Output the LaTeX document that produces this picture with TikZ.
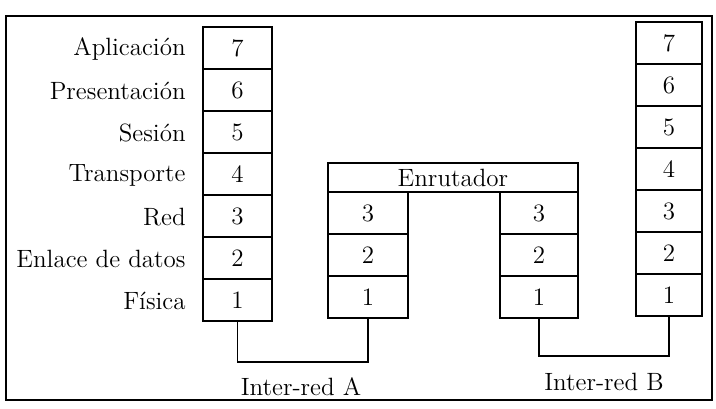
\documentclass[tikz,border=0pt]{standalone}
\usepackage{tikz}
\usetikzlibrary{positioning, calc}
\tikzset{
    % Layer cells of the stacks
    layerbox/.style={
        rectangle,
        draw=black,
        line width=0.9pt,
        inner sep=0pt,
        minimum height=21pt,
        text centered,
        font=\fontsize{12.5}{15}\selectfont
    },
    routerbox/.style={
        layerbox,
        minimum width=125pt,
        minimum height=14.5pt
    },
    % Labels
    layername/.style={
        anchor=east,
        inner sep=0pt,
        font=\fontsize{12.5}{15}\selectfont
    },
    netlabel/.style={
        inner sep=0pt,
        font=\fontsize{12.5}{15}\selectfont
    },
    % Links between physical layers
    netlink/.style={
        draw=black,
        line width=0.9pt
    }
}
\begin{document}
\begin{tikzpicture}[x=0.5pt, y=-0.5pt]
    \useasboundingbox (0,0) rectangle (716,408);
    % Frame
    \draw[line width=0.9pt] (6,16) rectangle (712,400);

    % Host A - seven layers with names
    \foreach \n/\l in {7/Aplicación,6/Presentación,5/Sesión,4/Transporte,3/Red,2/Enlace de datos,1/Física} {
        \node[layerbox, minimum width=34.5pt] (a\n) at (237.5,{27+42*(7-\n)+21}) {\n};
        \node[layername] (la\n) at (186,{27+42*(7-\n)+22}) {\l};
    }

    % Router - lower three layers on each side
    \node[routerbox] (router) at (453,177.5) {Enrutador};
    \foreach \n in {3,2,1} {
        \node[layerbox, minimum width=40pt] (ra\n) at (368,{192+42*(3-\n)+21}) {\n};
        \node[layerbox, minimum width=39pt] (rb\n) at (539,{192+42*(3-\n)+21}) {\n};
    }

    % Host B - seven layers
    \foreach \n in {7,...,1} {
        \node[layerbox, minimum width=33pt] (b\n) at (669,{22+42*(7-\n)+21}) {\n};
    }

    % Networks
    \draw[netlink] (a1.south) -- ++(0,40) -| (ra1.south);
    \draw[netlink] (rb1.south) -- ++(0,37) -| (b1.south);
    \node[netlabel] (netA) at (301,387) {Inter-red A};
    \node[netlabel] (netB) at (604,382) {Inter-red B};
\end{tikzpicture}
\end{document}
